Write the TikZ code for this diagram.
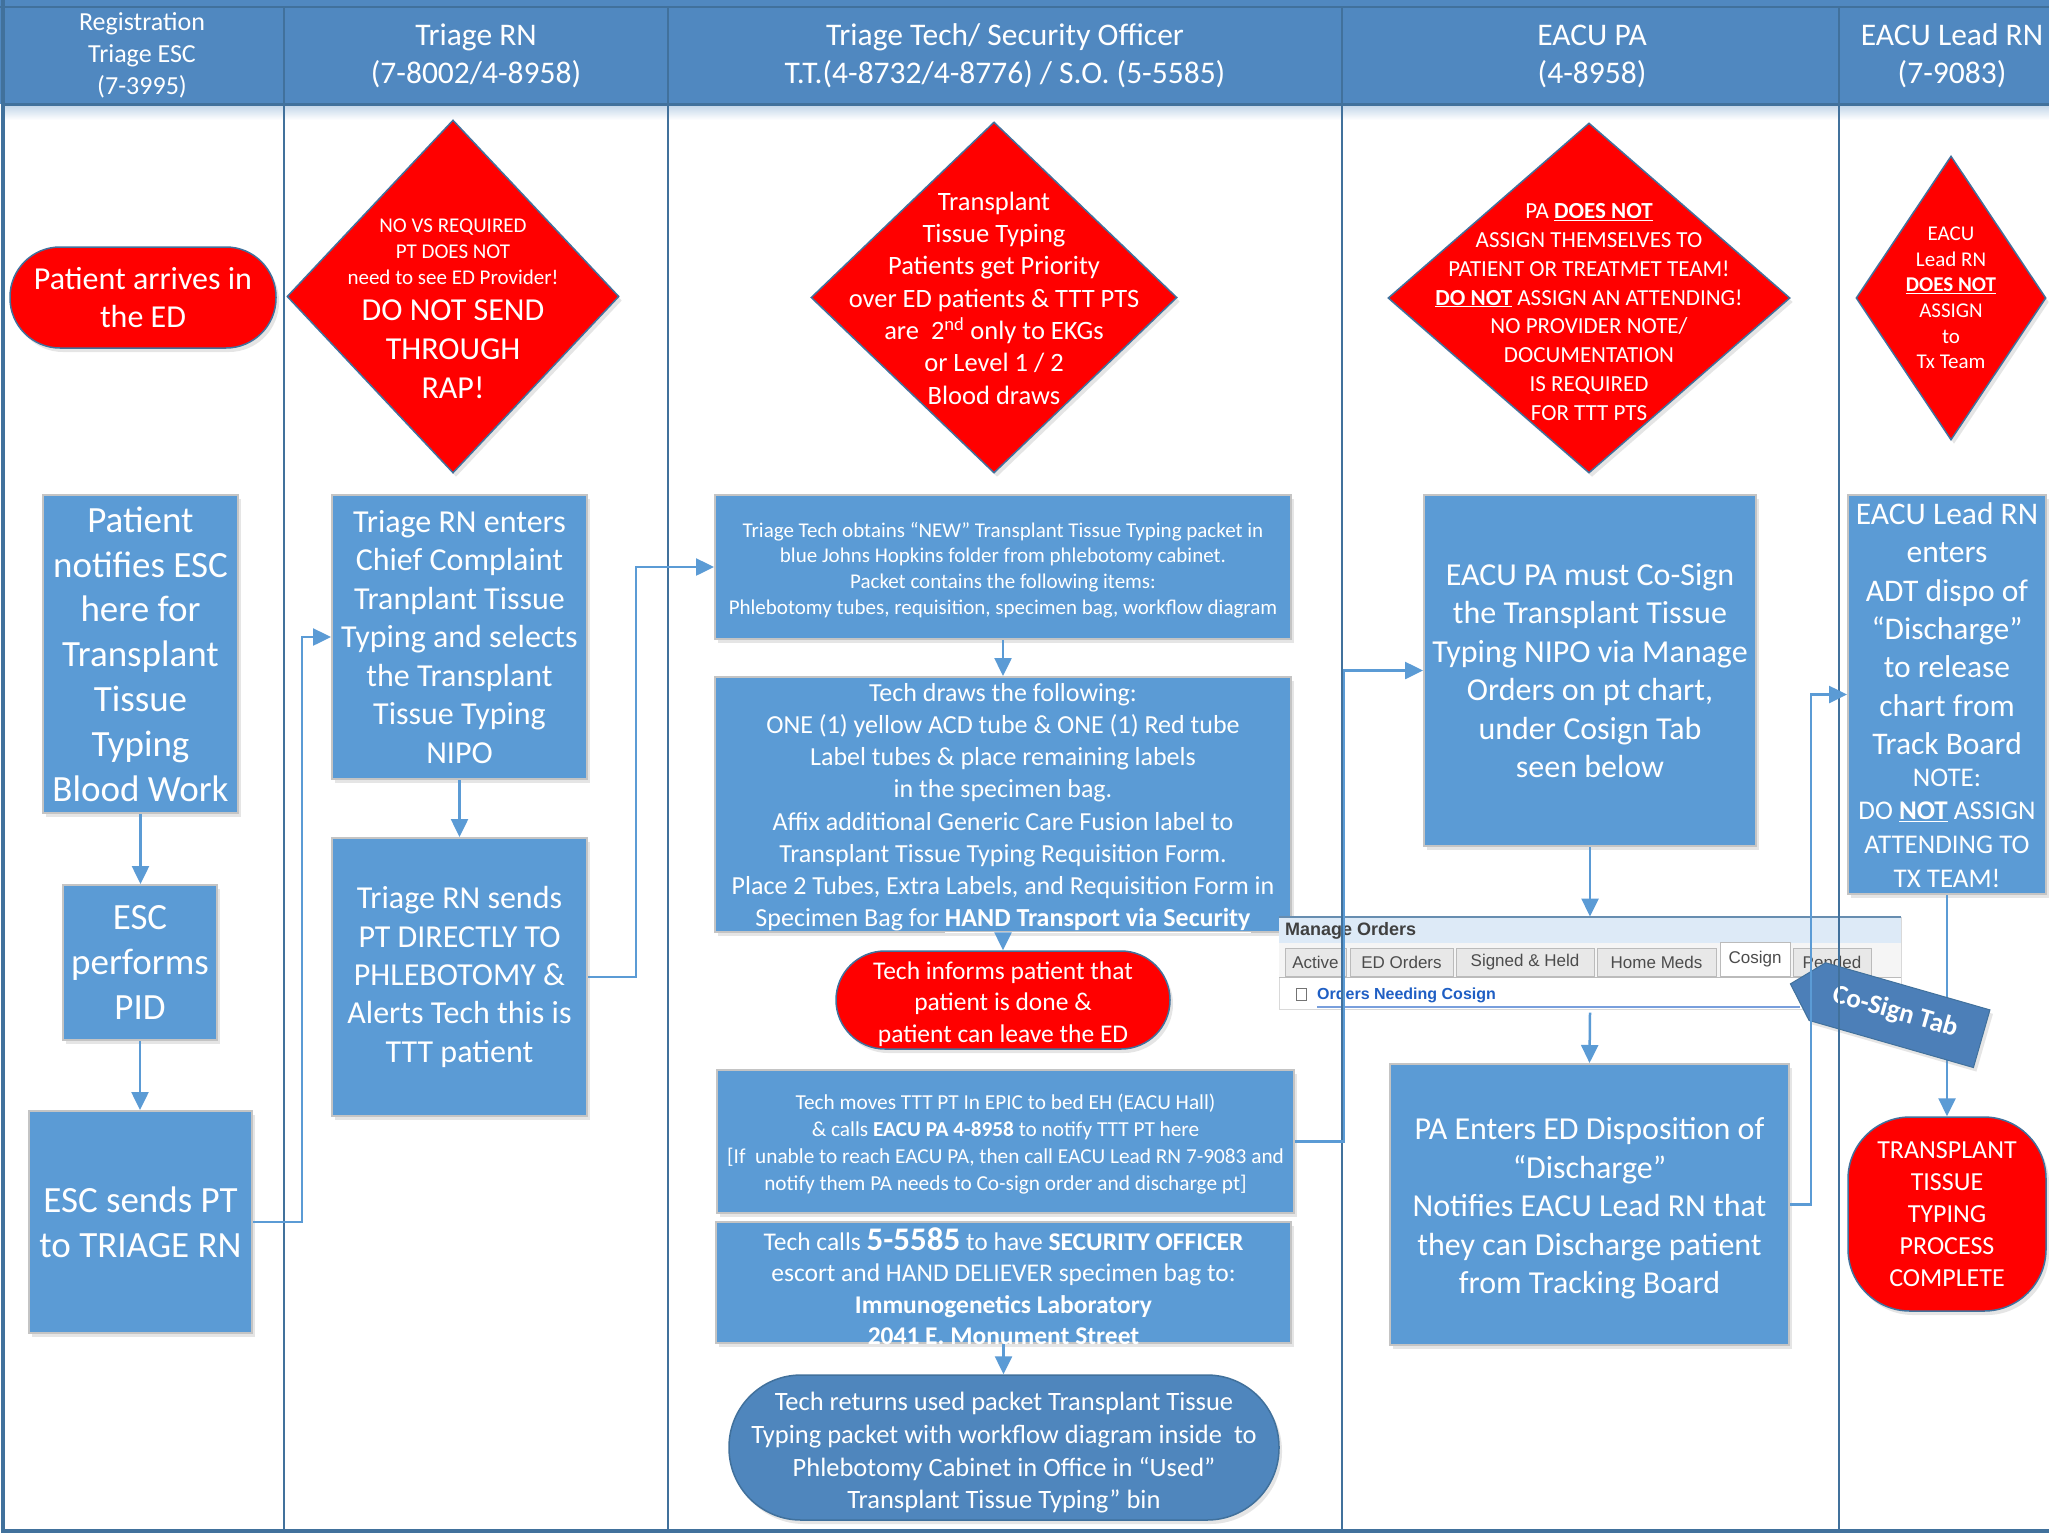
\documentclass[tikz,border=0pt]{standalone}
\usepackage{fontspec}
\setmainfont{Carlito}
\newfontfamily\uifont{Liberation Sans}
\usetikzlibrary{shapes.geometric,arrows.meta,shadows}
\definecolor{boxblue}{HTML}{5B9BD5}
\definecolor{hdrblue}{HTML}{5088C0}
\definecolor{laneline}{HTML}{41719C}
\definecolor{darkblue}{HTML}{4F86BD}
\definecolor{redfill}{HTML}{FF0000}
\definecolor{boxedge}{HTML}{C4C4C4}
\definecolor{calloutblue}{HTML}{4C7FB8}
\definecolor{shothead}{HTML}{DDEAF7}
\definecolor{tabfill}{HTML}{E8E8E8}
\definecolor{tabedge}{HTML}{BBBBBB}
\definecolor{linkblue}{HTML}{1F5FC4}
\newcommand{\fsz}[2]{\fontsize{#1}{#2}\selectfont}
\newcommand{\ub}[1]{\underline{\textbf{#1}}}
\tikzset{
  softshadow/.style={drop shadow={opacity=0.2,shadow xshift=3pt,shadow yshift=-4pt}},
  box/.style={rectangle,draw=boxedge,line width=2pt,fill=boxblue,inner sep=0pt,softshadow},
  redstad/.style={rectangle,draw=laneline,line width=1.5pt,fill=redfill,inner sep=0pt,softshadow},
  bluestad/.style={rectangle,draw=laneline,line width=1.5pt,fill=darkblue,inner sep=0pt,softshadow},
  reddia/.style={diamond,draw=laneline,line width=1.5pt,fill=redfill,inner sep=0pt,softshadow},
  txt/.style={text=white,align=center,inner sep=0pt},
  arr/.style={draw=boxblue,line width=2.5pt,-{Triangle[length=18pt,width=17pt]}},
  lane/.style={draw=laneline,line width=2.5pt},
  tab/.style={rectangle,draw=tabedge,line width=1pt,fill=tabfill,inner sep=0pt,text=black!70,font=\uifont\fsz{17}{20}},
}
\begin{document}
\begin{tikzpicture}[x=1pt,y=-1pt]
\useasboundingbox (0,0) rectangle (2049,1534);
\fill[white] (0,0) rectangle (2049,1534);
% header band
\fill[hdrblue] (0,0) rectangle (2049,104);
\shade[top color=hdrblue!35,bottom color=white] (3,105) rectangle (2049,120);

% ---------- lane 1 ----------
\node[redstad,rounded corners=50pt,minimum width=266pt,minimum height=101pt,txt,font=\fsz{32}{38}] (arrives) at (143,297.5) {Patient arrives in\\the ED};
\node[box,txt,font=\fsz{37}{44.8},minimum width=195pt,minimum height=318pt] (notifies) at (140.5,654) {Patient\\notifies ESC\\here for\\Transplant\\Tissue\\Typing\\Blood Work};
\node[box,txt,font=\fsz{37}{44.8},minimum width=154pt,minimum height=155pt] (escpid) at (140,962.5) {ESC\\performs\\PID};
\node[box,txt,font=\fsz{37}{44.8},minimum width=223pt,minimum height=222pt] (escsends) at (140.5,1222) {ESC sends PT\\to TRIAGE RN};

% ---------- lane 2 ----------
\node[reddia,minimum width=332pt,minimum height=353pt] (dia1) at (453,296.5) {};
\node[txt,font=\fsz{21}{26}] (dia1a) at (453,252) {NO VS REQUIRED\\PT DOES NOT\\need to see ED Provider!};
\node[txt,font=\fsz{32}{39}] (dia1b) at (453,349) {DO NOT SEND\\THROUGH\\RAP!};
\node[box,txt,font=\fsz{32}{38.5},minimum width=255pt,minimum height=284pt] (rnenters) at (459.5,637) {Triage RN enters\\Chief Complaint\\Tranplant Tissue\\Typing and selects\\the Transplant\\Tissue Typing\\NIPO};
\node[box,txt,font=\fsz{32}{38.3},minimum width=255pt,minimum height=278pt] (rnsends) at (459.5,977) {Triage RN sends\\PT DIRECTLY TO\\PHLEBOTOMY \&\\Alerts Tech this is\\TTT patient};

% ---------- lane 3 ----------
\node[reddia,minimum width=366pt,minimum height=351pt] (dia2) at (994,297.5) {};
\node[txt,font=\fsz{26.5}{32.3}] (dia2t) at (994,298) {Transplant\\Tissue Typing\\Patients get Priority\\over ED patients \& TTT PTS\\are\ \ 2\textsuperscript{nd} only to EKGs\\or Level 1 / 2\\Blood draws};
\node[box,minimum width=576pt,minimum height=144pt] (obtains) at (1003,567) {};
\node[txt,font=\fsz{21}{25.7}] (obtainst) at (1003,570) {Triage Tech obtains “NEW” Transplant Tissue Typing packet in\\blue Johns Hopkins folder from phlebotomy cabinet.\\Packet contains the following items:\\Phlebotomy tubes, requisition, specimen bag, workflow diagram};
\node[box,minimum width=576pt,minimum height=255pt] (draws) at (1003,804.5) {};
\node[txt,font=\fsz{26}{32.1}] (drawst) at (1003,808) {Tech draws the following:\\ONE (1) yellow ACD tube \& ONE (1) Red tube\\Label tubes \& place remaining labels\\in the specimen bag.\\Affix additional Generic Care Fusion label to\\Transplant Tissue Typing Requisition Form.\\Place 2 Tubes, Extra Labels, and Requisition Form in\\Specimen Bag for \ub{HAND Transport via Security}};
\node[redstad,rounded corners=49pt,minimum width=334pt,minimum height=98pt] (informs) at (1003,1000) {};
\node[txt,font=\fsz{25.5}{31.4}] (informst) at (1003,1004) {Tech informs patient that\\patient is done \&\\patient can leave the ED};
\node[box,minimum width=577pt,minimum height=143pt] (techmoves) at (1005.5,1141.5) {};
\node[txt,font=\fsz{21.3}{27}] (techmovest) at (1005.5,1144) {Tech moves TTT PT In EPIC to bed EH (EACU Hall)\\\& calls \textbf{EACU PA 4-8958} to notify TTT PT here\\{[}If\ \ unable to reach EACU PA, then call EACU Lead RN 7-9083 and\\notify them PA needs to Co-sign order and discharge pt{]}};
\node[box,minimum width=575pt,minimum height=121pt] (techcalls) at (1003.5,1282.5) {};
\node[txt,font=\fsz{25.5}{31.4}] (techcallst) at (1003.5,1286) {Tech calls {\fsz{33}{31.4}\bfseries 5-5585} to have \textbf{SECURITY OFFICER}\\escort and HAND DELIEVER specimen bag to:\\\textbf{Immunogenetics Laboratory}\\\textbf{2041 E. Monument Street}};
\node[bluestad,rounded corners=72pt,minimum width=550pt,minimum height=145pt] (returns) at (1004,1447.5) {};
\node[txt,font=\fsz{26.5}{32.7}] (returnst) at (1004,1453) {Tech returns used packet Transplant Tissue\\Typing packet with workflow diagram inside\ \ to\\Phlebotomy Cabinet in Office in “Used”\\Transplant Tissue Typing” bin};

% ---------- lane 4 ----------
\node[reddia,minimum width=402pt,minimum height=350pt] (dia3) at (1589,298) {};
\node[txt,font=\fsz{23}{28.75}] (dia3t) at (1589,312) {PA \ub{DOES NOT}\\ASSIGN THEMSELVES TO\\PATIENT OR TREATMET TEAM!\\\ub{DO NOT} ASSIGN AN ATTENDING!\\NO PROVIDER NOTE/\\DOCUMENTATION\\IS REQUIRED\\FOR TTT PTS};
\node[box,txt,font=\fsz{32}{38.4},minimum width=332pt,minimum height=351pt] (pamust) at (1590,670.5) {EACU PA must Co-Sign\\the Transplant Tissue\\Typing NIPO via Manage\\Orders on pt chart,\\under Cosign Tab\\seen below};
\node[box,minimum width=399pt,minimum height=281pt] (paenter) at (1589.5,1204.5) {};
\node[txt,font=\fsz{32}{38.5}] (paentert) at (1589.5,1208.5) {PA Enters ED Disposition of\\“Discharge”\\Notifies EACU Lead RN that\\they can Discharge patient\\from Tracking Board};

% ---------- lane 5 ----------
\node[reddia,minimum width=190pt,minimum height=284pt] (dia4) at (1951,298) {};
\node[txt,font=\fsz{21}{25.6}] (dia4t) at (1951,298) {EACU\\Lead RN\\\ub{DOES NOT}\\ASSIGN\\to\\Tx Team};
\node[box,minimum width=198pt,minimum height=399pt] (leadrn) at (1947,694.5) {};
\node[txt,font=\fsz{31.5}{38.3}] (leadrna) at (1947,628.6) {EACU Lead RN\\enters\\ADT dispo of\\“Discharge”\\to release\\chart from\\Track Board};
\node[txt,font=\fsz{27}{33.6}] (leadrnb) at (1947,828) {NOTE:\\DO \ub{NOT} ASSIGN\\ATTENDING TO\\TX TEAM!};
\node[redstad,rounded corners=62pt,minimum width=198pt,minimum height=194pt,txt,font=\fsz{26}{32}] (final) at (1947,1214) {TRANSPLANT\\TISSUE\\TYPING\\PROCESS\\COMPLETE};

% ---------- screenshot ----------
\node[rectangle,fill=white,draw=black!15,line width=1pt,minimum width=622pt,minimum height=92pt,inner sep=0pt] (shot) at (1590,963) {};
\fill[shothead] (1279,917) rectangle (1901,943);
\draw[draw=laneline!80,line width=2pt] (1279,917) -- (1901,917);
\node[anchor=west,inner sep=0pt,font=\uifont\bfseries\fsz{18}{20},text=black!75] (shottitle) at (1285,931) {Manage Orders};
\fill[black!4] (1279,943) rectangle (1901,977);
\node[tab,minimum width=61pt,minimum height=28pt] (tab1) at (1315.5,962) {Active};
\node[tab,minimum width=103pt,minimum height=28pt] (tab2) at (1401.5,962) {ED Orders};
\node[tab,minimum width=138pt,minimum height=28pt] (tab3) at (1525,962) {Signed \& Held};
\node[tab,minimum width=119pt,minimum height=28pt] (tab4) at (1656.5,962) {Home Meds};
\node[tab,fill=white,minimum width=70pt,minimum height=34pt] (tab5) at (1755,959) {Cosign};
\node[tab,minimum width=78pt,minimum height=28pt] (tab6) at (1832,962) {Pended};
\draw[tabedge,line width=1pt] (1279,977) -- (1901,977);
\draw[black!55,line width=1pt,fill=white] (1296,988) rectangle (1306,1000);
\node[anchor=west,inner sep=0pt,font=\uifont\bfseries\fsz{16}{18},text=linkblue] (shotlink) at (1317,995) {Orders Needing Cosign};
\draw[draw=linkblue!60,line width=2pt] (1317,1007) -- (1800,1007);

% arrow under callout
\draw[arr] (leadrn.south) -- (final.north);

% ---------- callout ----------
\begin{scope}[shift={(1899,1015)},rotate=-16]
\filldraw[fill=calloutblue,draw=laneline,line width=1pt,softshadow] (-113,0) -- (-85,-30) -- (86,-30) -- (86,30) -- (-85,30) -- cycle;
\end{scope}
\node[text=white,font=\bfseries\fsz{27}{30},rotate=-16,inner sep=0pt] (cosign) at (1895,1012) {Co-Sign Tab};

% ---------- lanes and frame ----------
\draw[lane] (284,7) -- (284,1531);
\draw[lane] (668,7) -- (668,1531);
\draw[lane] (1342,7) -- (1342,1531);
\draw[lane] (1839,7) -- (1839,1531);
\draw[laneline,line width=2pt] (0,7) -- (2049,7);
\draw[laneline,line width=3pt] (3,104) -- (2049,104);
\draw[laneline,line width=4pt] (3,0) -- (3,1531) -- (2049,1531);

% ---------- headers ----------
\node[txt,font=\fsz{26}{32}] (h1) at (142,55) {Registration\\Triage ESC\\(7-3995)};
\node[txt,font=\fsz{31.5}{38}] (h2) at (476,56) {Triage RN\\(7-8002/4-8958)};
\node[txt,font=\fsz{31.5}{38}] (h3) at (1005,56) {Triage Tech/ Security Officer\\T.T.(4-8732/4-8776) / S.O. (5-5585)};
\node[txt,font=\fsz{31.5}{38}] (h4) at (1592,56) {EACU PA\\(4-8958)};
\node[txt,font=\fsz{31.5}{38}] (h5) at (1952,56) {EACU Lead RN\\(7-9083)};

% ---------- connectors ----------
\draw[arr] (notifies.south) -- (notifies.south |- escpid.north);
\draw[arr] (escpid.south) -- (escpid.south |- escsends.north);
\draw[arr] (escsends.east) -- ++(49,0) |- (rnenters.west);
\draw[arr] (rnenters.south) -- (rnsends.north);
\draw[arr] (rnsends.east) -- ++(48,0) |- (obtains.west);
\draw[arr] (obtains.south) -- (draws.north);
\draw[arr] (draws.south) -- (informs.north);
\draw[arr] (techmoves.east) -- ++(49,0) |- (pamust.west);
\draw[arr] (techcalls.south) -- (techcalls.south |- returns.north);
\draw[arr] (pamust.south) -- (shot.north);
\draw[arr] ([yshift=-3pt]shot.south) -- (paenter.north);
\draw[arr] (paenter.east) -- ++(21,0) |- (leadrn.west);
\end{tikzpicture}
\end{document}
